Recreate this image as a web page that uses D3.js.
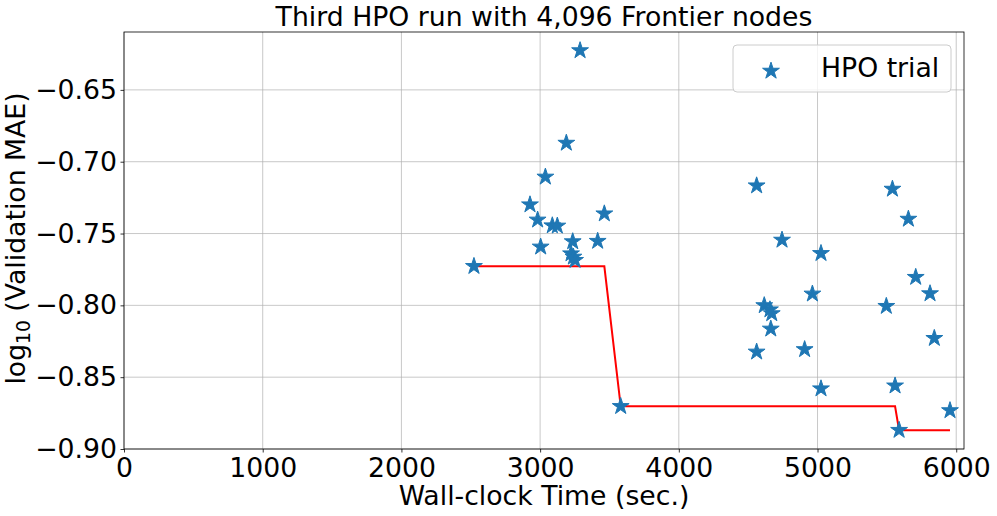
<!DOCTYPE html>
<html>
<head>
<meta charset="utf-8">
<script src="https://cdn.jsdelivr.net/npm/d3@7"></script>
<style>
  html, body { margin: 0; padding: 0; background: #fff; }
  svg { display: block; font-family: "DejaVu Sans", sans-serif; }
</style>
</head>
<body>
<svg id="chart" width="997" height="516"></svg>
<script>
// ---- data ----
const trialTime = [2523, 2927, 2982, 3004, 3038, 3088, 3124, 3189, 3223, 3235, 3240, 3252,
  3288, 3415, 3463, 3581, 4561, 4561, 4616, 4657, 4663, 4670, 4744, 4907, 4963, 5025,
  5025, 5496, 5540, 5559, 5588, 5655, 5708, 5811, 5842, 5955];
const trialValue = [-0.7728, -0.7299, -0.7405, -0.7593, -0.7106, -0.7445, -0.7447, -0.6870,
  -0.7640, -0.7556, -0.7663, -0.7686, -0.6226, -0.7553, -0.7362, -0.8703, -0.7167, -0.8324,
  -0.8001, -0.8030, -0.8164, -0.8057, -0.7545, -0.8307, -0.7920, -0.7638, -0.8580, -0.8006,
  -0.7190, -0.8560, -0.8869, -0.7399, -0.7804, -0.7918, -0.8229, -0.8732];
const bestTime = [2523, 3463, 3581, 5559, 5588, 5955];
const bestValue = [-0.7728, -0.7728, -0.8703, -0.8703, -0.8869, -0.8869];
const xTicks = [0, 1000, 2000, 3000, 4000, 5000, 6000];
const yTicks = [-0.90, -0.85, -0.80, -0.75, -0.70, -0.65];
const titleText = "Third HPO run with 4,096 Frontier nodes";
const xLabel = "Wall-clock Time (sec.)";
const legendLabel = "HPO trial";

// ---- layout ----
const svg = d3.select("#chart");
const L = 124, R = 964, T = 32, B = 449;
const FS = 26.7;
const blue = "#1f77b4";

const x = d3.scaleLinear().domain([0, 6056]).range([L, R]);
const y = d3.scaleLinear().domain([-0.90, -0.6097]).range([B, T]);

// grid
const grid = svg.append("g");
grid.selectAll(".gx").data(xTicks).join("line")
  .attr("x1", d => x(d)).attr("x2", d => x(d)).attr("y1", T).attr("y2", B)
  .attr("stroke", "#b0b0b0").attr("stroke-opacity", 0.7).attr("stroke-width", 1);
grid.selectAll(".gy").data(yTicks).join("line")
  .attr("x1", L).attr("x2", R).attr("y1", d => y(d)).attr("y2", d => y(d))
  .attr("stroke", "#b0b0b0").attr("stroke-opacity", 0.7).attr("stroke-width", 1);

// axes
const fmtY = d => d3.format(".2f")(d).replace("-", "\u2212");
const xAxis = svg.append("g").attr("transform", `translate(0,${B})`)
  .call(d3.axisBottom(x).tickValues(xTicks).tickFormat(d3.format("d")).tickSize(3.5).tickPadding(4));
const yAxis = svg.append("g").attr("transform", `translate(${L},0)`)
  .call(d3.axisLeft(y).tickValues(yTicks).tickFormat(fmtY).tickSize(3.5).tickPadding(3.5));
[xAxis, yAxis].forEach(a => {
  a.select(".domain").remove();
  a.selectAll("text").attr("font-size", FS).attr("font-family", "DejaVu Sans").attr("fill", "#000");
  a.selectAll("line").attr("stroke", "#000").attr("stroke-width", 0.8);
});
xAxis.selectAll("text").attr("dy", "0.76em");

// frame
svg.append("rect").attr("x", L).attr("y", T).attr("width", R - L).attr("height", B - T)
  .attr("fill", "none").attr("stroke", "#000").attr("stroke-width", 0.8);

// best-so-far line
svg.append("path")
  .datum(bestTime.map((t, i) => [t, bestValue[i]]))
  .attr("fill", "none").attr("stroke", "red").attr("stroke-width", 2)
  .attr("d", d3.line().x(d => x(d[0])).y(d => y(d[1])));

// stars
const star = d3.symbol().type(d3.symbolStar).size(88);
svg.append("g").selectAll("path")
  .data(trialTime.map((t, i) => [t, trialValue[i]]))
  .join("path")
  .attr("transform", d => `translate(${x(d[0])},${y(d[1])})`)
  .attr("d", star())
  .attr("fill", blue).attr("stroke", blue).attr("stroke-width", 1).attr("stroke-linejoin", "miter");

// title
svg.append("text").attr("x", (L + R) / 2).attr("y", 26).attr("text-anchor", "middle")
  .attr("font-size", FS).text(titleText);

// x label
svg.append("text").attr("x", (L + R) / 2).attr("y", 505).attr("text-anchor", "middle")
  .attr("font-size", FS).text(xLabel);

// y label
const yl = svg.append("text").attr("transform", `translate(25,${(T + B) / 2 - 2}) rotate(-90)`)
  .attr("text-anchor", "middle").attr("font-size", FS);
yl.append("tspan").text("log");
yl.append("tspan").attr("font-size", FS * 0.7).attr("dy", 5).text("10");
yl.append("tspan").attr("dy", -5).text(" (Validation MAE)");

// legend
const lg = svg.append("g");
lg.append("rect").attr("x", 733).attr("y", 45).attr("width", 218).attr("height", 47)
  .attr("rx", 4).attr("fill", "#fff").attr("fill-opacity", 0.8)
  .attr("stroke", "#cccccc").attr("stroke-width", 1);
lg.append("path").attr("transform", "translate(771,71)").attr("d", star())
  .attr("fill", blue).attr("stroke", blue).attr("stroke-width", 1);
lg.append("text").attr("x", 821).attr("y", 77).attr("font-size", FS).text(legendLabel);
</script>
</body>
</html>
